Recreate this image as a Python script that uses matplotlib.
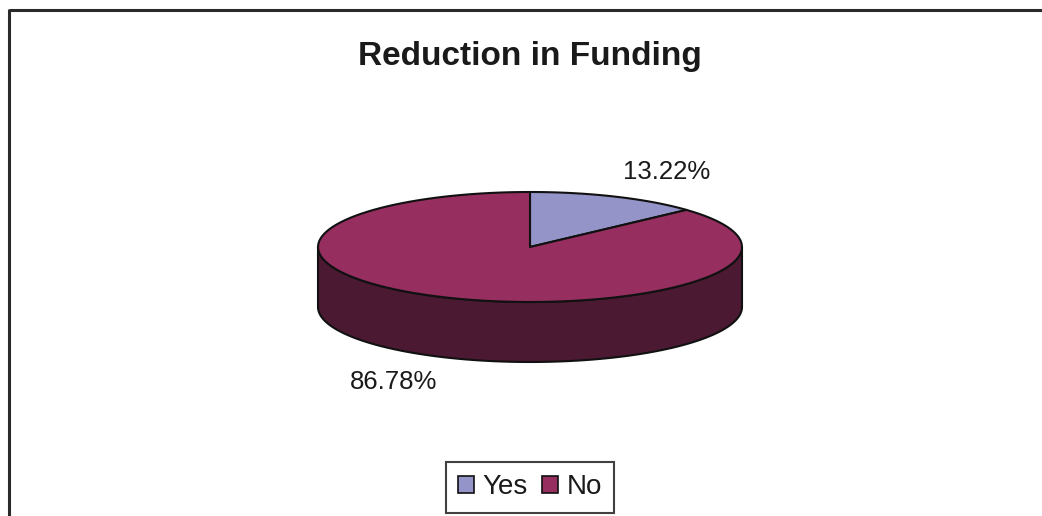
import numpy as np
import matplotlib.pyplot as plt
from matplotlib.patches import Polygon, Patch

plt.rcParams['font.family'] = ['Liberation Sans', 'DejaVu Sans']

title = "Reduction in Funding"
categories = ["Yes", "No"]
shares = [13.22, 86.78]
labels = ["13.22%", "86.78%"]
top_colors = ["#9494C8", "#962E60"]
side_colors = ["#4A4A64", "#4B1932"]

W, H = 1042, 516
fig = plt.figure(figsize=(W / 100, H / 100), dpi=100)
ax = fig.add_axes([0, 0, 1, 1])
ax.set_xlim(0, W)
ax.set_ylim(H, 0)
ax.axis("off")

# pie geometry in pixel units (screen y goes down)
cx, cy = 530, 247
a, b = 212, 55
depth = 60


def arc(t0, t1, dy=0, n=120):
    t = np.radians(np.linspace(t0, t1, n))
    return np.column_stack([cx + a * np.cos(t), cy - b * np.sin(t) + dy])


# slice angle ranges, starting at 12 o'clock and going clockwise
fracs = np.array(shares) / sum(shares)
starts = 90 - 360 * np.concatenate([[0], np.cumsum(fracs)[:-1]])
ends = starts - 360 * fracs

# side walls: only the front half of the rim is visible
for s, e, col in zip(starts, ends, side_colors):
    for k in (-360, 0, 360):
        lo, hi = max(e, 180 + k), min(s, 360 + k)
        if hi > lo:
            top = arc(lo, hi)
            bot = arc(hi, lo, dy=depth)
            ax.add_patch(Polygon(np.vstack([top, bot]), closed=True,
                                 facecolor=col, edgecolor="#111111", lw=1.5,
                                 joinstyle="round"))

# top faces
for s, e, col in zip(starts, ends, top_colors):
    pts = np.vstack([[cx, cy], arc(s, e)])
    ax.add_patch(Polygon(pts, closed=True, facecolor=col,
                         edgecolor="#111111", lw=1.5, joinstyle="round"))

# percentage labels outside the slices
for s, e, txt in zip(starts, ends, labels):
    m = np.radians((s + e) / 2)
    lx = cx + 1.6 * a * np.cos(m)
    ly = cy - 1.5 * b * np.sin(m)
    if np.sin(m) < 0:
        ly += depth
    ax.text(lx, ly, txt, fontsize=18.5, color="#1a1a1a",
            ha="center", va="center")

ax.text(530, 65, title, fontsize=24, fontweight="bold", color="#1a1a1a",
        ha="center", va="baseline")

# chart border (top and left edges)
ax.plot([9, W], [10, 10], color="#2a2a2a", lw=2.2, solid_capstyle="butt")
ax.plot([9, 9], [9, H], color="#2a2a2a", lw=2.2, solid_capstyle="butt")

handles = [Patch(facecolor=c, edgecolor="#111111", lw=1.2) for c in top_colors]
leg = fig.legend(handles, categories, loc="center",
                 bbox_to_anchor=(530 / W, 1 - 487.5 / H), ncol=2,
                 fontsize=20, frameon=True, fancybox=False,
                 handlelength=0.57, handleheight=0.57, handletextpad=0.32,
                 columnspacing=0.5, borderpad=0.45, borderaxespad=0)
leg.get_frame().set_edgecolor("#111111")
leg.get_frame().set_linewidth(1.5)
for t in leg.get_texts():
    t.set_color("#1a1a1a")

fig.savefig("out.png", dpi=100)
